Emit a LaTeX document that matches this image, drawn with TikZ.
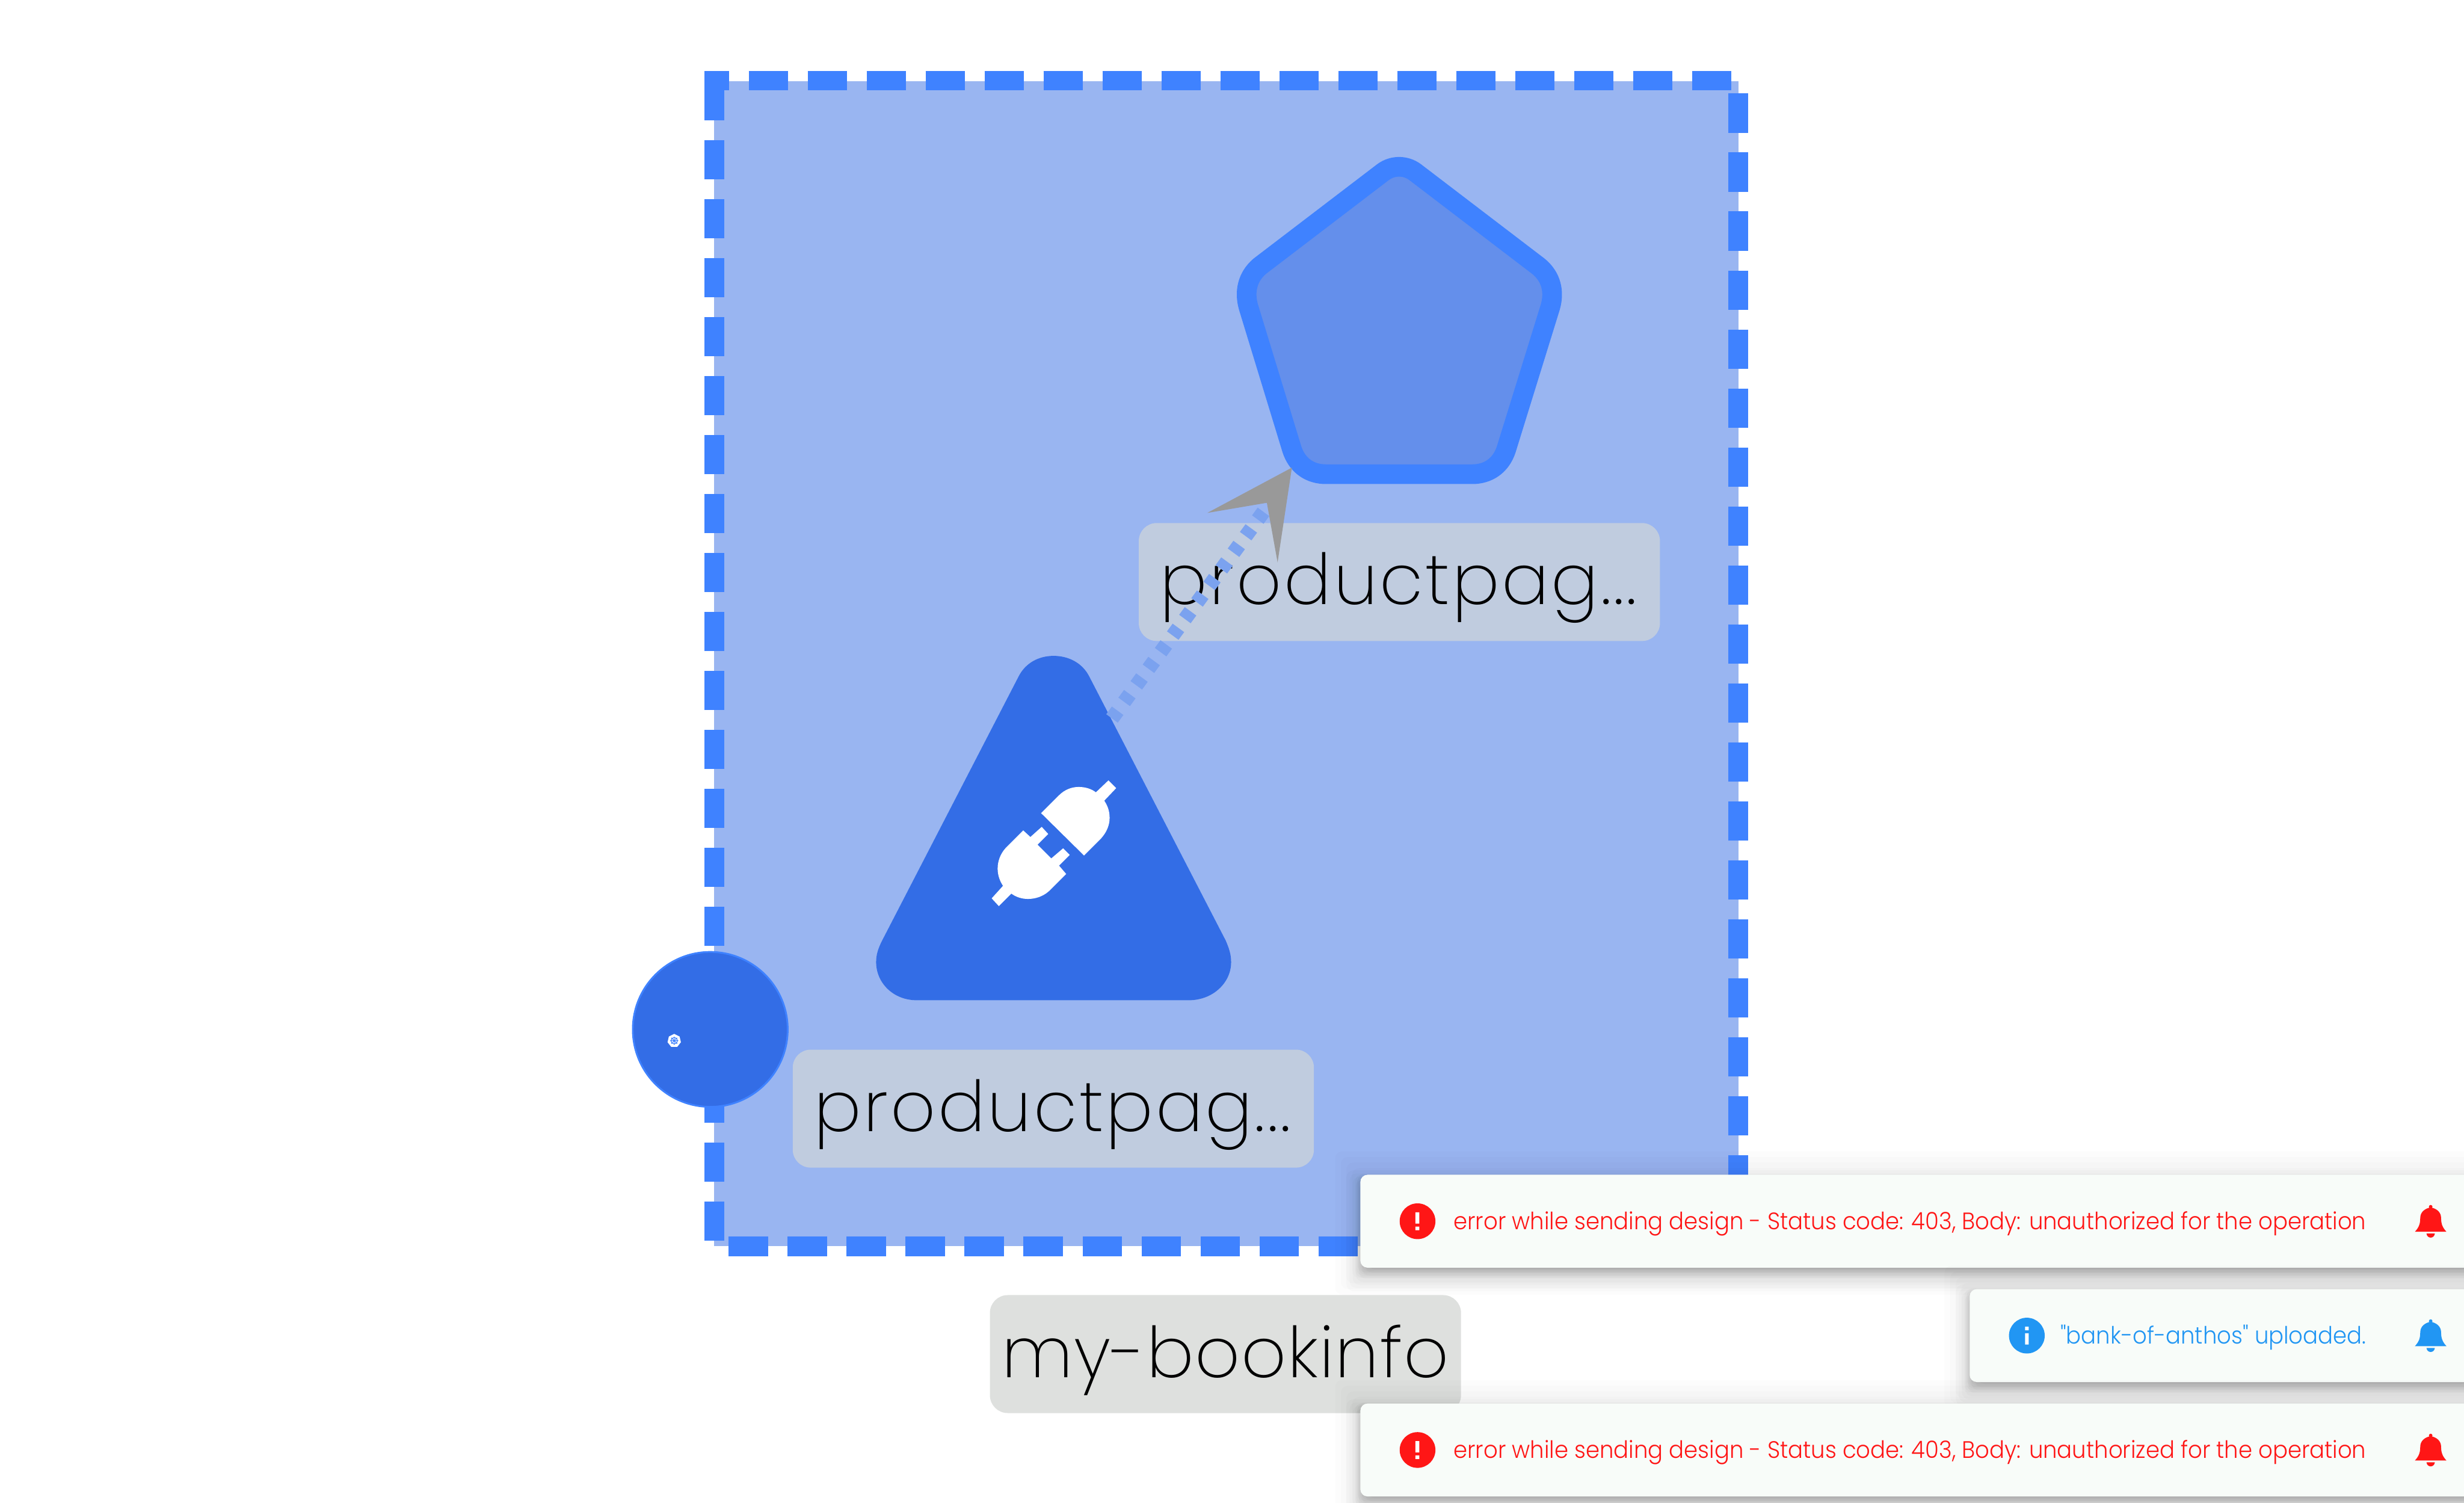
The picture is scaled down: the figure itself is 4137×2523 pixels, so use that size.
\documentclass[tikz,border=0pt]{standalone}
\usepackage{fontspec}
\setmainfont{Poppins}
\newfontfamily\labfont[LetterSpace=3.2]{Poppins ExtraLight}
\newfontfamily\grpfont[LetterSpace=1.5]{Poppins ExtraLight}
\newfontfamily\toastfont[FakeStretch=0.935]{Poppins Light}
\definecolor{groupfill}{HTML}{99B5F1}
\definecolor{dashblue}{HTML}{3F82FF}
\definecolor{nodeblue}{HTML}{336DE6}
\definecolor{pentfill}{HTML}{648FEB}
\definecolor{labelbg}{HTML}{C0CCDF}
\definecolor{labelgrey}{HTML}{DEE0DE}
\definecolor{edgeblue}{HTML}{7BA2EF}
\definecolor{arrowgrey}{HTML}{999999}
\definecolor{toastbg}{HTML}{F8FCF9}
\definecolor{errred}{HTML}{FF1616}
\definecolor{infoblue}{HTML}{2196F3}
\tikzset{
  x=1pt,y=-1pt,
  labelbox/.style={rounded corners=30pt,inner sep=0pt},
  labeltext/.style={font=\labfont\fontsize{118}{118}\selectfont,inner sep=0pt,text=black,anchor=base},
  grouptext/.style={font=\grpfont\fontsize{118}{118}\selectfont,inner sep=0pt,text=black,anchor=base},
  toasttext/.style={font=\toastfont\fontsize{40}{40}\selectfont,inner sep=0pt,anchor=base east},
  toastbox/.style={fill=toastbg,rounded corners=12pt},
  bellpic/.pic={
    \fill (-26.5,45) .. controls (-20,38) and (-17.5,32) .. (-17.5,22)
       .. controls (-17.5,12) and (-10,6) .. (0,4)
       .. controls (10,6) and (17.5,12) .. (17.5,22)
       .. controls (17.5,32) and (20,38) .. (26.5,45) -- cycle;
    \fill (0,3) circle[radius=3];
    \fill (-7,48) -- (7,48) .. controls (6,57) and (-6,57) .. (-7,48) -- cycle;
  }
}
\newcommand{\softshadow}[8]{% x1 y1 x2 y2 offset spread blur alpha
  \foreach \k in {1,...,10}{
    \pgfmathsetmacro{\e}{#6+#7*(1.1-\k/5)}
    \fill[black,fill opacity=#8/10,rounded corners=12pt]
      (#1-\e,#2-\e+#5) rectangle (#3+\e+20,#4+\e+#5);
  }
}
\newcommand{\toastshadow}[4]{%
  \softshadow{#1}{#2}{#3}{#4}{8}{-3}{13}{0.2}
  \softshadow{#1}{#2}{#3}{#4}{16}{0}{26}{0.14}
  \softshadow{#1}{#2}{#3}{#4}{3}{0}{47}{0.12}
}
\begin{document}
\begin{tikzpicture}
\useasboundingbox (0,0) rectangle (4137,2523);
\fill[white] (0,0) rectangle (4137,2523);

% group
\fill[groupfill] (1199,136) rectangle (2919,2092);
\draw[dashblue,line width=33pt,dash pattern=on 66pt off 33pt,dash phase=41.5pt]
  (1199.5,135.5) -- (2918.5,135.5) -- (2918.5,2092) -- (1199.5,2092) -- cycle;
\fill[dashblue] (1183,119) rectangle (1224,152);

% pentagon
\draw[dashblue,fill=pentfill,line width=33pt]
  (2115,447) -- (2322,289) .. controls (2338,277) and (2360,277) .. (2376,289)
  -- (2583,447) .. controls (2605,465) and (2610,490) .. (2603,515)
  -- (2529,754) .. controls (2520,782) and (2498,796) .. (2472,796)
  -- (2226,796) .. controls (2200,796) and (2178,782) .. (2169,754)
  -- (2096,515) .. controls (2089,490) and (2094,465) .. (2115,447) -- cycle;

% label service
\fill[labelbg,labelbox] (1912,878) rectangle (2787,1076);
\node[labeltext] (lblsvc) at (2348,1015) {productpag...};

% triangle
\fill[nodeblue]
  (1710,1136) .. controls (1722,1112) and (1745,1101) .. (1769,1101)
  .. controls (1793,1101) and (1817,1112) .. (1829,1136)
  -- (2058,1579) .. controls (2064,1593) and (2067,1603) .. (2067,1615)
  .. controls (2067,1650) and (2036,1679) .. (1996,1679)
  -- (1539,1679) .. controls (1500,1679) and (1471,1650) .. (1471,1615)
  .. controls (1471,1603) and (1474,1593) .. (1481,1579) -- cycle;
% plug icon
\fill[white] (1748,1365) -- (1778,1335) .. controls (1788,1325) and (1800,1321) .. (1811,1321)
  .. controls (1822,1321) and (1832,1324) .. (1840,1330) -- (1861,1310) -- (1874,1323) -- (1854,1344)
  .. controls (1860,1353) and (1863,1362) .. (1863,1373)
  .. controls (1863,1385) and (1858,1397) .. (1849,1407) -- (1820,1436) -- cycle;
\fill[white] (1718,1394) -- (1730,1405) -- (1749,1388) -- (1760,1400) -- (1742,1418) -- (1765,1441)
  -- (1785,1424) -- (1796,1435) -- (1778,1453) -- (1790,1467) -- (1761,1496)
  .. controls (1751,1505) and (1738,1509) .. (1726,1509)
  .. controls (1716,1509) and (1706,1506) .. (1698,1500) -- (1677,1521) -- (1665,1508) -- (1684,1487)
  .. controls (1678,1478) and (1675,1468) .. (1675,1458)
  .. controls (1675,1445) and (1680,1433) .. (1688,1424) -- cycle;

% label plug
\fill[labelbg,labelbox] (1331,1762) rectangle (2206,1960);
\node[labeltext] (lblplug) at (1767,1899) {productpag...};

% port circle
\node[circle,draw=dashblue,fill=nodeblue,line width=3pt,minimum size=260pt,inner sep=0pt] (port) at (1192.5,1728) {};
\fill[white] (1132,1735.5) -- (1141,1740) -- (1143.2,1749.5) -- (1137,1757.3) -- (1127,1757.3) -- (1120.8,1749.5) -- (1123,1740) -- cycle;
\draw[dashblue,line width=1.2pt] (1132,1747) circle[radius=5.5];
\draw[dashblue,line width=1pt] (1132,1740) -- (1132,1754) (1125,1747) -- (1139,1747) (1127,1742) -- (1137,1752) (1137,1742) -- (1127,1752);

% group label
\fill[labelgrey,labelbox] (1662,2174) rectangle (2453,2372);
\node[grouptext] (lblgroup) at (2057.5,2312) {my-bookinfo};

% connector
\coordinate (edgestart) at (1867,1206);
\coordinate (edgeend) at (2131,846);
\draw[edgeblue,line width=24pt,dash pattern=on 16pt off 18.5pt] (edgestart) -- (edgeend);
\fill[arrowgrey] (2169,785) -- (2027,861) -- (2127,844) -- (2145,944) -- cycle;

% toasts
\toastshadow{2284}{1972}{4137}{2128}
\fill[toastbox] (2284,1972) rectangle (4160,2128);
\toastshadow{3307}{2164}{4137}{2320}
\fill[toastbox] (3307,2164) rectangle (4160,2320);
\toastshadow{2284}{2356}{4137}{2512}
\fill[toastbox] (2284,2356) rectangle (4160,2512);

\node[circle,fill=errred,minimum size=60pt,inner sep=0pt] (erricona) at (2380,2050) {};
\fill[white] (2376.5,2035) rectangle (2383,2054) (2376.5,2059) rectangle (2383,2065);
\node[toasttext,text=errred] (errtexta) at (3973,2064) {error while sending design - Status code: 403, Body: unauthorized for the operation};
\pic[errred] at (4081,2022.7) {bellpic};

\node[circle,fill=infoblue,minimum size=60pt,inner sep=0pt] (infoicon) at (3403,2242) {};
\fill[white] (3400,2227) rectangle (3406,2233) (3400,2238) rectangle (3406,2257);
\node[toasttext,text=infoblue] (infotext) at (3973,2256) {"bank-of-anthos" uploaded.};
\pic[infoblue] at (4081,2214.7) {bellpic};

\node[circle,fill=errred,minimum size=60pt,inner sep=0pt] (erriconb) at (2380,2434) {};
\fill[white] (2376.5,2419) rectangle (2383,2438) (2376.5,2443) rectangle (2383,2449);
\node[toasttext,text=errred] (errtextb) at (3973,2448) {error while sending design - Status code: 403, Body: unauthorized for the operation};
\pic[errred] at (4081,2406.7) {bellpic};
\end{tikzpicture}
\end{document}
